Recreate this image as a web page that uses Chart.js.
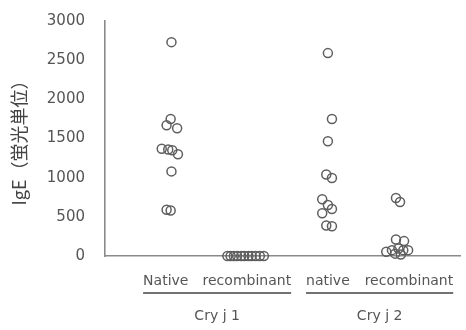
<!DOCTYPE html>
<html>
<head>
<meta charset="utf-8">
<script src="https://cdn.jsdelivr.net/npm/chart.js@4/dist/chart.umd.min.js"></script>
<style>
  html, body { margin: 0; padding: 0; background: #fff; }
  canvas { display: block; }
</style>
</head>
<body>
<canvas id="c" width="466" height="330"></canvas>
<script>
// Sample groups along the x axis
const categories = ['Native', 'recombinant', 'native', 'recombinant'];
// Allergen groups spanning two samples each (indices into categories)
const groupLabels = ['Cry j 1', 'Cry j 2'];
const groupMembers = [[0, 1], [2, 3]];

// IgE levels (fluorescence units) per subject
const nativeCryj1 = [2730, 1750, 1670, 1630, 1370, 1360, 1350, 1300, 1080, 590, 580];
const recombCryj1 = [0, 0, 0, 0, 0, 0, 0, 0, 0, 0, 0];
const nativeCryj2 = [2590, 1750, 1465, 1040, 995, 725, 650, 600, 545, 390, 380];
const recombCryj2 = [740, 690, 210, 190, 55, 75, 95, 75, 75, 30, 20];

// Horizontal spread of each subject's dot within its group (category units)
const spreadNativeCryj1 = [0.07, 0.06, 0.01, 0.14, -0.05, 0.03, 0.08, 0.15, 0.07, 0.01, 0.06];
const spreadRecombCryj1 = [-0.24, -0.2, -0.16, -0.12, -0.07, -0.03, 0.02, 0.06, 0.11, 0.16, 0.21];
const spreadNativeCryj2 = [0, 0.05, 0, -0.02, 0.05, -0.07, 0, 0.05, -0.07, -0.02, 0.05];
const spreadRecombCryj2 = [-0.16, -0.11, -0.16, -0.06, -0.28, -0.21, -0.13, -0.07, -0.01, -0.17, -0.1];

// Y axis tick values
const yTicks = [0, 500, 1000, 1500, 2000, 2500, 3000];

const seriesValues = [nativeCryj1, recombCryj1, nativeCryj2, recombCryj2];
const seriesSpread = [spreadNativeCryj1, spreadRecombCryj1, spreadNativeCryj2, spreadRecombCryj2];

const LABEL_FONT = { family: 'DejaVu Sans', size: 14 };
const TEXT_COLOR = '#555';
const AXIS_COLOR = '#8a8a8a';

const datasets = seriesValues.map((vals, i) => ({
  label: categories[i],
  data: vals.map((v, j) => ({ x: i + 1 + seriesSpread[i][j], y: v })),
  pointRadius: 4.5,
  pointHoverRadius: 4.5,
  pointBorderWidth: 1.5,
  borderColor: '#5e5e5e',
  backgroundColor: 'rgba(0,0,0,0)',
  showLine: false,
  clip: false
}));

// Draws the underline and name of each allergen group below the sample labels
const groupBrackets = {
  id: 'groupBrackets',
  afterDraw(chart) {
    const { ctx, chartArea, scales } = chart;
    const xs = scales.x;
    ctx.save();
    ctx.font = `${LABEL_FONT.size}px ${LABEL_FONT.family}`;
    const lineY = chartArea.bottom + 37;
    groupMembers.forEach((members, g) => {
      const first = members[0], last = members[members.length - 1];
      const x0 = xs.getPixelForValue(first + 1) - ctx.measureText(categories[first]).width / 2;
      const x1 = xs.getPixelForValue(last + 1) + ctx.measureText(categories[last]).width / 2;
      ctx.strokeStyle = '#444';
      ctx.lineWidth = 1.3;
      ctx.beginPath();
      ctx.moveTo(x0, lineY);
      ctx.lineTo(x1, lineY);
      ctx.stroke();
      ctx.fillStyle = TEXT_COLOR;
      ctx.textAlign = 'center';
      ctx.textBaseline = 'middle';
      ctx.fillText(groupLabels[g], (x0 + x1) / 2, lineY + 23);
    });
    ctx.restore();
  }
};

new Chart(document.getElementById('c'), {
  type: 'scatter',
  data: { datasets },
  options: {
    responsive: false,
    animation: false,
    events: [],
    layout: { padding: { top: 17, right: 6, bottom: 0, left: 0 } },
    plugins: { legend: { display: false }, tooltip: { enabled: false } },
    scales: {
      x: {
        type: 'linear',
        min: 0.25,
        max: 4.63,
        afterBuildTicks(scale) {
          scale.ticks = categories.map((c, i) => ({ value: i + 1 }));
        },
        afterFit(scale) { scale.height = 74; },
        grid: { display: false },
        border: { display: true, color: AXIS_COLOR, width: 1.6 },
        ticks: {
          autoSkip: false,
          maxRotation: 0,
          padding: 9,
          color: TEXT_COLOR,
          font: LABEL_FONT,
          callback: (v) => categories[Math.round(v) - 1]
        }
      },
      y: {
        min: 0,
        max: 3000,
        afterBuildTicks(scale) {
          scale.ticks = yTicks.map(v => ({ value: v }));
        },
        afterFit(scale) { scale.width = 105; },
        grid: { display: false },
        border: { display: true, color: AXIS_COLOR, width: 1.6 },
        ticks: {
          padding: 12,
          color: TEXT_COLOR,
          font: { family: 'DejaVu Sans', size: 15 },
          callback: (v) => String(v)
        },
        title: {
          display: true,
          text: 'IgE（蛍光単位）',
          color: '#444',
          font: { family: 'Noto Sans CJK JP', size: 18 },
          padding: { top: 8, bottom: 0 }
        }
      }
    }
  },
  plugins: [groupBrackets]
});
</script>
</body>
</html>
